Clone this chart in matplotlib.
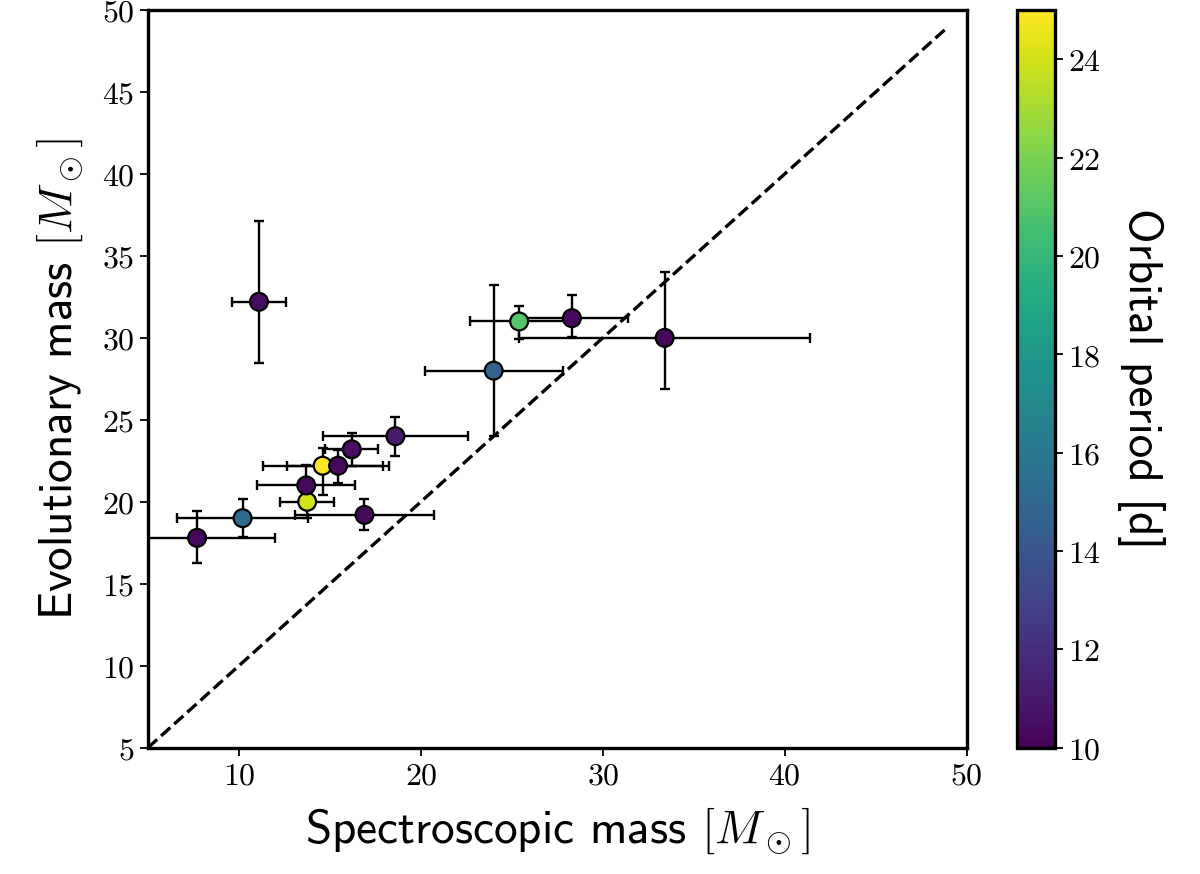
import matplotlib
matplotlib.use("Agg")
import matplotlib.pyplot as plt
import numpy as np

plt.rcParams['mathtext.fontset'] = 'cm'

# Data
spec_mass = [7.7, 10.2, 16.9, 13.75, 13.7, 14.6, 15.45, 16.2, 18.6, 11.1, 24.0, 25.4, 28.3, 33.4]
spec_err = [4.3, 3.6, 3.8, 1.5, 2.7, 3.3, 2.8, 1.45, 4.0, 1.5, 3.8, 2.7, 3.1, 8.0]
evo_mass = [17.8, 19.0, 19.2, 20.0, 21.0, 22.2, 22.2, 23.2, 24.0, 32.2, 28.0, 31.0, 31.2, 30.0]
evo_err_lo = [1.55, 1.15, 0.95, 1.0, 1.2, 1.8, 1.05, 1.0, 1.2, 3.75, 4.0, 1.1, 1.15, 3.15]
evo_err_hi = [1.65, 1.2, 0.95, 1.0, 1.25, 1.1, 0.95, 1.0, 1.2, 4.9, 5.2, 0.95, 1.4, 4.0]
period = [10.3, 15.2, 10.4, 24.0, 10.3, 25.0, 10.3, 10.5, 11.0, 10.5, 14.8, 21.0, 10.3, 10.3]

x_ticks = [10, 20, 30, 40, 50]
y_ticks = [5, 10, 15, 20, 25, 30, 35, 40, 45, 50]
cb_ticks = [10, 12, 14, 16, 18, 20, 22, 24]

fig = plt.figure(figsize=(12, 8.74), dpi=100)
ax = fig.add_axes([0.1233, 0.1445, 0.6823, 0.8441])
cax = fig.add_axes([0.8475, 0.1445, 0.0317, 0.8441])

ax.errorbar(spec_mass, evo_mass, xerr=spec_err, yerr=[evo_err_lo, evo_err_hi],
            fmt='none', ecolor='black', elinewidth=1.7, capsize=3.8, capthick=1.7, zorder=1)
sc = ax.scatter(spec_mass, evo_mass, c=period, cmap='viridis', vmin=10, vmax=25,
                s=165, edgecolors='black', linewidths=1.6, zorder=3)
ax.plot([5, 49], [5, 49], color='black', linestyle='--', linewidth=2.4, zorder=2)

ax.set_xlim(5, 50)
ax.set_ylim(5, 50)
ax.set_xticks(x_ticks)
ax.set_yticks(y_ticks)
ax.set_xticklabels([f'${t}$' for t in x_ticks], fontsize=23)
ax.set_yticklabels([f'${t}$' for t in y_ticks], fontsize=23)
ax.tick_params(direction='out', length=6, width=1.3)
for s in ax.spines.values():
    s.set_linewidth(2.4)

ax.set_xlabel(r'Spectroscopic mass $[M_\odot]$', fontsize=34, family='cmss10', labelpad=10)
ax.set_ylabel(r'Evolutionary mass $[M_\odot]$', fontsize=34, family='cmss10', labelpad=12)

cb = fig.colorbar(sc, cax=cax)
cb.set_ticks(cb_ticks)
cb.set_ticklabels([f'${t}$' for t in cb_ticks])
cb.ax.tick_params(labelsize=23, length=6, width=1.3)
cb.outline.set_linewidth(2.4)
cb.set_label('Orbital period [d]', fontsize=34, family='cmss10', rotation=270, labelpad=46)

fig.savefig('out.png', dpi=100)
